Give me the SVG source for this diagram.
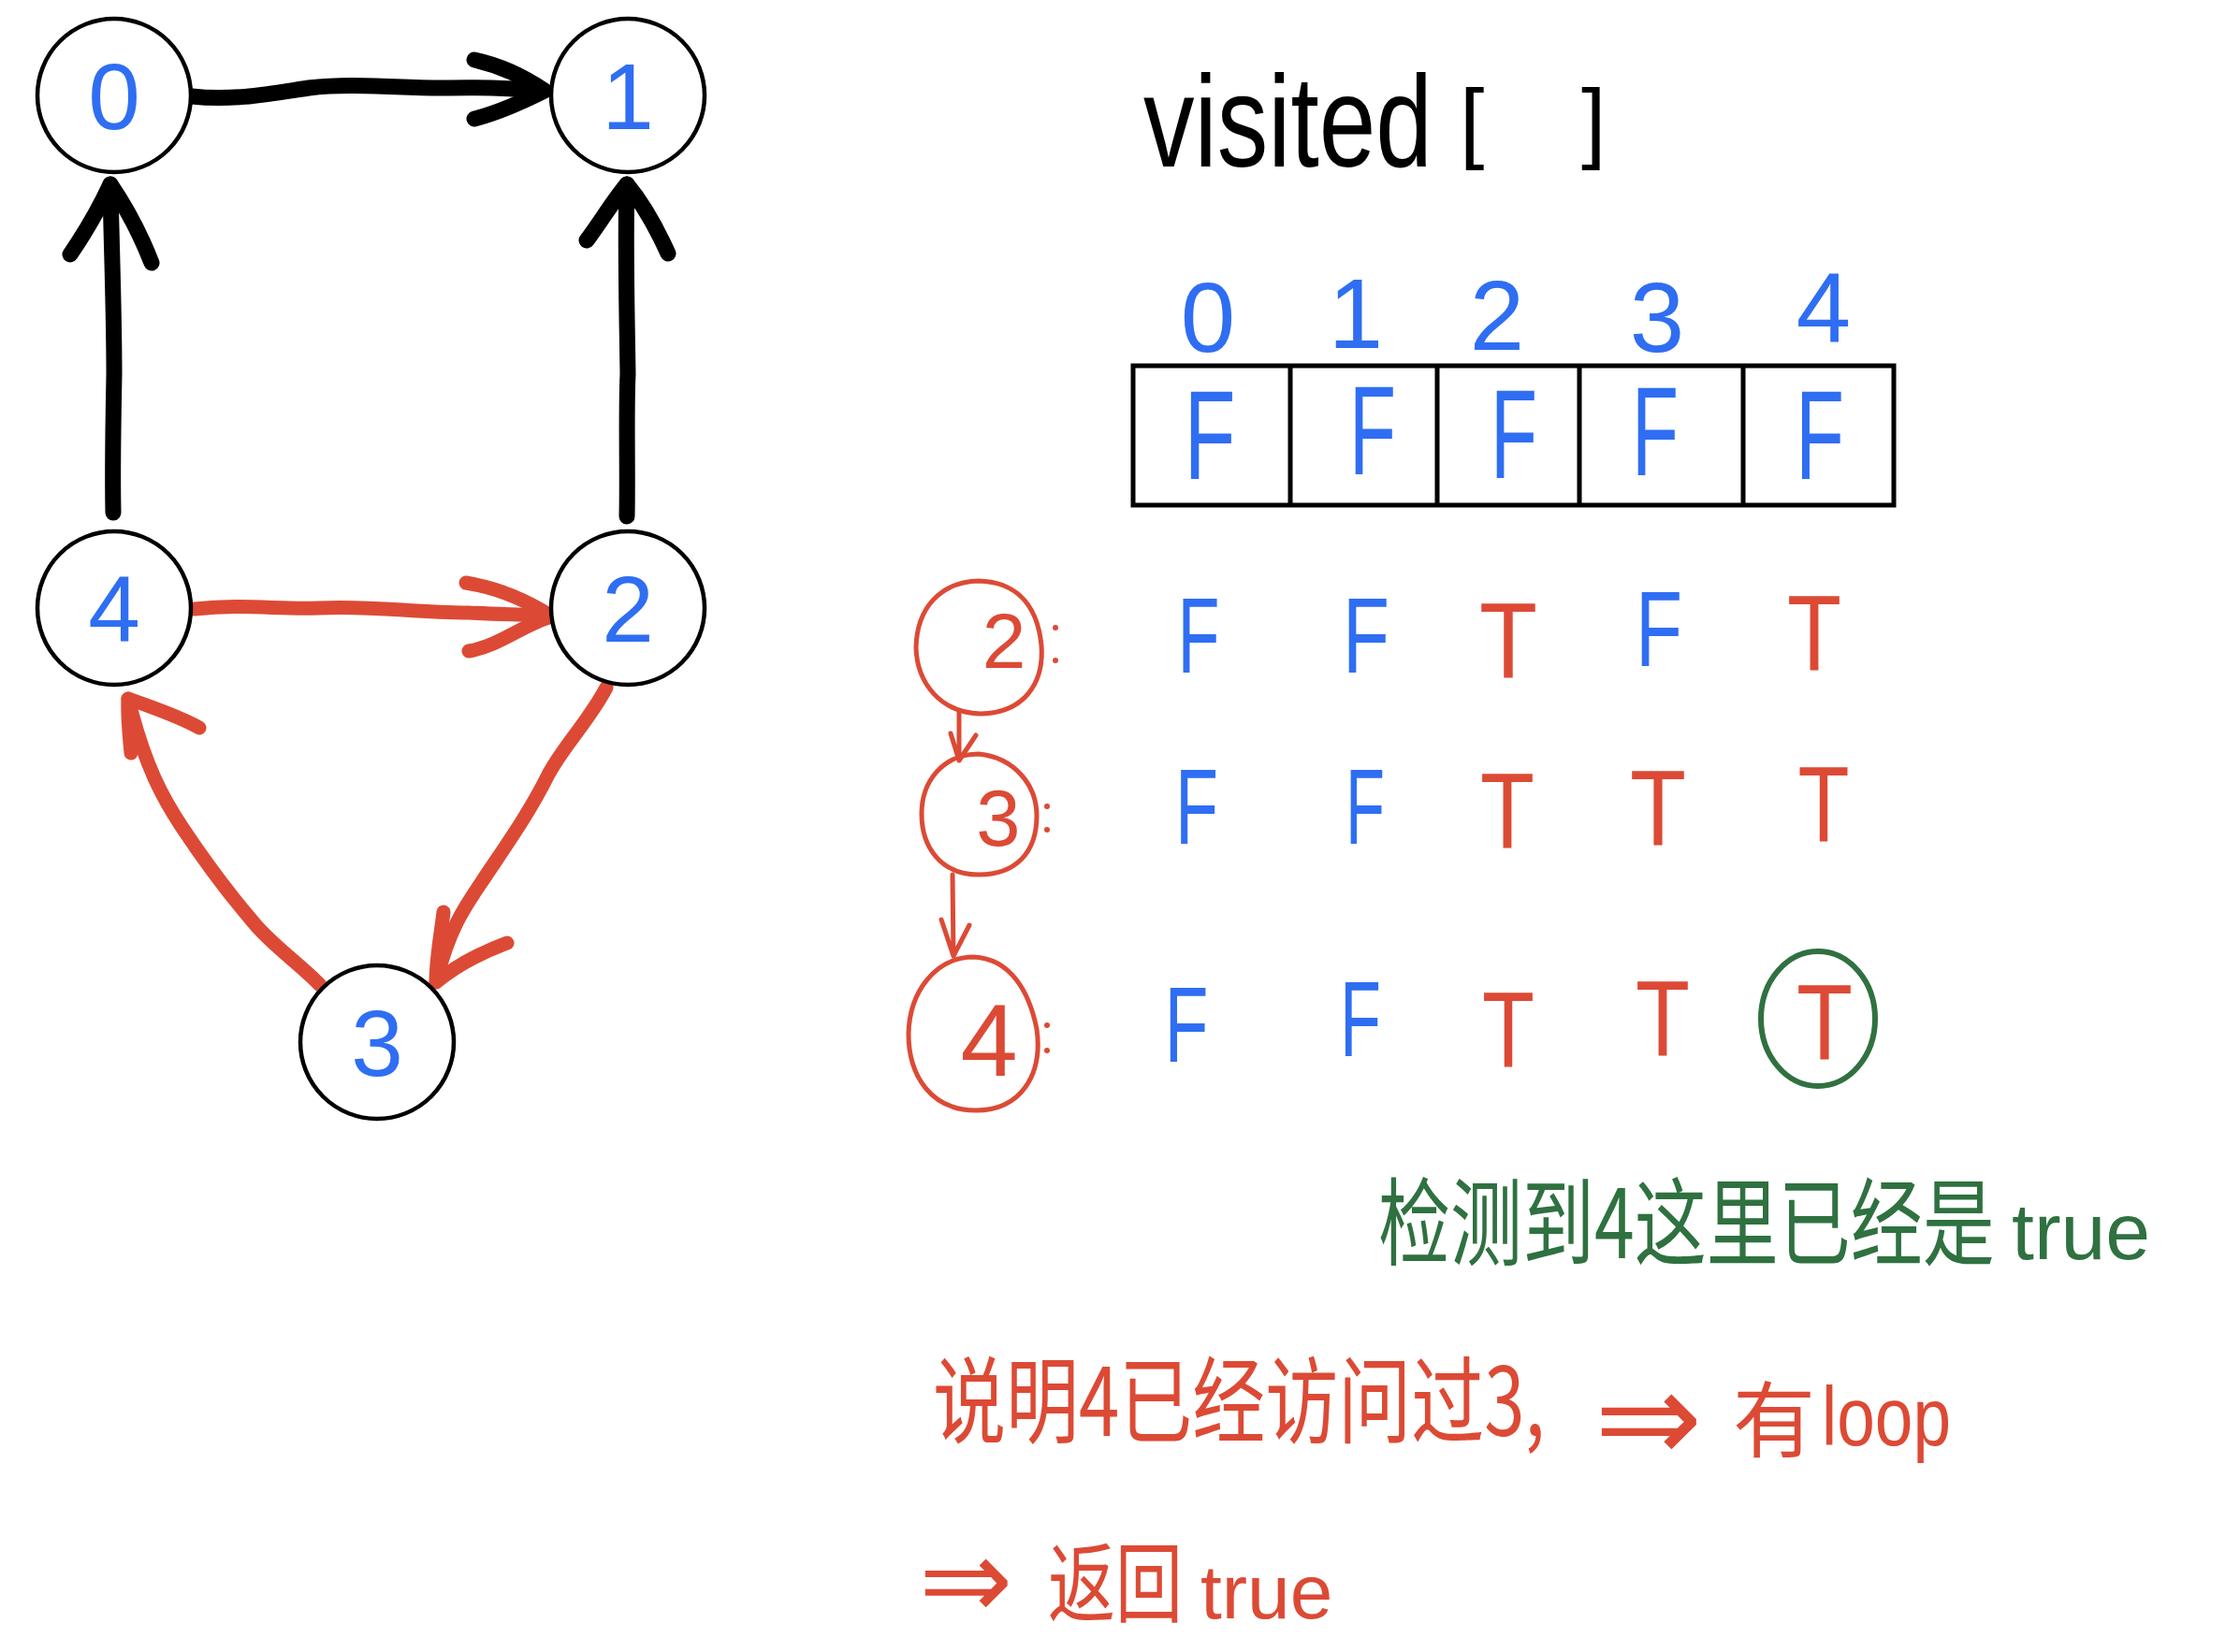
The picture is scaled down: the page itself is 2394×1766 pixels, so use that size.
<svg xmlns="http://www.w3.org/2000/svg" width="2394" height="1766" viewBox="0 0 2394 1766">
<style>
.bg{fill:#ffffff}
.node{fill:#ffffff;stroke:#000000;stroke-width:4.5}
.nlabel{font-family:"Liberation Sans","Noto Sans",sans-serif;font-size:100px;fill:#2f6ef2;text-anchor:middle}
.blk{fill:none;stroke:#000000;stroke-width:17;stroke-linecap:round;stroke-linejoin:round}
.red{fill:none;stroke:#dc4a35;stroke-width:15;stroke-linecap:round;stroke-linejoin:round}
.redthin{fill:none;stroke:#dc4a35;stroke-width:5;stroke-linecap:round;stroke-linejoin:round}
.grn{fill:none;stroke:#2f7140;stroke-width:6;stroke-linecap:round}
.tbl{fill:none;stroke:#000000;stroke-width:5}
.hand{font-family:"Liberation Sans","Noto Sans",sans-serif}
.arrowtxt{font-family:"DejaVu Sans",sans-serif}
.b{fill:#2f6ef2}
.r{fill:#dc4a35}
.g{fill:#2f7140}
.k{fill:#000000}
.cjk{font-family:"Noto Sans CJK SC","Liberation Sans",sans-serif}
.cell{font-family:"Liberation Sans",sans-serif;font-size:135px;text-anchor:middle}
.row{font-family:"Liberation Sans",sans-serif;font-size:115px;text-anchor:middle}
</style>
<rect class="bg" x="0" y="0" width="2394" height="1766"/>

<g id="connectors">
  <g id="e0-1">
    <path class="blk" d="M205,103 C250,108 290,100 330,94 C380,88 430,95 480,94 C520,93 555,95 580,97"/>
    <path class="blk" d="M507,64 C535,70 560,82 582,97 C560,108 535,120 507,127"/>
  </g>
  <g id="e4-0">
    <path class="blk" d="M121,548 C120,500 121,450 122,400 C122,330 119,260 118,197"/>
    <path class="blk" d="M75,272 C90,250 105,225 118,197 C135,222 150,250 162,281"/>
  </g>
  <g id="e2-1">
    <path class="blk" d="M670,552 C671,500 669,440 671,400 C670,330 668,260 670,197"/>
    <path class="blk" d="M627,257 C640,240 655,215 670,197 C685,215 700,240 714,271"/>
  </g>
  <g id="e4-2">
    <path class="red" d="M208,651 C260,645 300,652 340,650 C400,647 440,655 500,655 C540,657 570,657 590,659"/>
    <path class="red" d="M498,623 C530,628 560,640 590,659 C560,667 535,690 501,696"/>
  </g>
  <g id="e2-3">
    <path class="red" d="M648,735 C630,770 600,800 585,830 C565,870 540,905 520,935 C500,965 480,990 466,1050"/>
    <path class="red" d="M474,975 C471,1000 466,1025 466,1050 C490,1030 515,1018 542,1008"/>
  </g>
  <g id="e3-4">
    <path class="red" d="M342,1053 C320,1030 290,1010 270,985 C240,950 215,915 195,885 C175,855 155,820 137,747"/>
    <path class="red" d="M140,805 C138,785 136,765 137,747 C160,755 190,765 213,778"/>
  </g>
  <g id="trace-arrows">
    <path class="redthin" d="M1025,760 L1025,813 M1016,784 L1025,813 L1043,786"/>
    <path class="redthin" d="M1018,935 L1019,1022 M1006,983 L1019,1022 L1036,989"/>
  </g>
</g>

<g id="node-0">
  <circle class="node" cx="122" cy="102" r="82"/>
  <text class="nlabel" x="122" y="138">0</text>
</g>
<g id="node-1">
  <circle class="node" cx="671" cy="102" r="82"/>
  <text class="nlabel" x="671" y="138">1</text>
</g>
<g id="node-4">
  <circle class="node" cx="122" cy="650" r="82"/>
  <text class="nlabel" x="122" y="686">4</text>
</g>
<g id="node-2">
  <circle class="node" cx="671" cy="650" r="82"/>
  <text class="nlabel" x="671" y="686">2</text>
</g>
<g id="node-3">
  <circle class="node" cx="403" cy="1114" r="82"/>
  <text class="nlabel" x="403" y="1150">3</text>
</g>

<g id="visited-title">
  <text class="hand k" x="1222" y="178" font-size="109" transform="matrix(1 0 0 1.28 0 -49.84)">visited</text>
  <text class="hand k" x="1560" y="162" font-size="95">[</text>
  <text class="hand k" x="1690" y="162" font-size="95">]</text>
</g>

<g id="visited-table">
  <rect class="tbl" x="1211" y="391" width="813" height="149"/>
  <line class="tbl" x1="1379" y1="391" x2="1379" y2="540"/>
  <line class="tbl" x1="1536" y1="391" x2="1536" y2="540"/>
  <line class="tbl" x1="1688" y1="391" x2="1688" y2="540"/>
  <line class="tbl" x1="1863" y1="391" x2="1863" y2="540"/>
  <g font-size="105" class="hand b" text-anchor="middle">
    <text x="1291" y="376">0</text>
    <text x="1449" y="372">1</text>
    <text x="1600" y="374">2</text>
    <text x="1771" y="376">3</text>
    <text x="1949" y="366">4</text>
  </g>
  <g class="cell b">
    <text x="1293" y="512" textLength="55" lengthAdjust="spacingAndGlyphs">F</text>
    <text x="1467" y="507" textLength="50" lengthAdjust="spacingAndGlyphs">F</text>
    <text x="1618" y="511" textLength="50" lengthAdjust="spacingAndGlyphs">F</text>
    <text x="1769" y="508" textLength="50" lengthAdjust="spacingAndGlyphs">F</text>
    <text x="1945" y="512" textLength="52" lengthAdjust="spacingAndGlyphs">F</text>
  </g>
</g>

<g id="step-2">
  <path class="redthin" d="M1046,621 C1080,622 1108,640 1113,690 C1116,730 1095,762 1048,763 C1005,762 980,730 979,692 C980,650 1005,622 1046,621 Z"/>
  <text class="hand r" x="1073" y="714" font-size="84" text-anchor="middle">2</text>
  <circle class="r" cx="1128" cy="671" r="3"/>
  <circle class="r" cx="1128" cy="706" r="3"/>
  <g class="row">
    <text class="b" x="1281" y="719" textLength="45" lengthAdjust="spacingAndGlyphs">F</text>
    <text class="b" x="1460" y="719" textLength="50" lengthAdjust="spacingAndGlyphs">F</text>
    <text class="r" x="1612" y="725" textLength="62" lengthAdjust="spacingAndGlyphs">T</text>
    <text class="b" x="1773" y="712" textLength="50" lengthAdjust="spacingAndGlyphs">F</text>
    <text class="r" x="1939" y="717" textLength="58" lengthAdjust="spacingAndGlyphs">T</text>
  </g>
</g>

<g id="step-3">
  <path class="redthin" d="M1046,806 C1085,810 1108,840 1108,872 C1108,912 1085,935 1046,935 C1005,935 985,905 985,870 C985,835 1008,806 1046,806 Z"/>
  <text class="hand r" x="1067" y="904" font-size="85" text-anchor="middle">3</text>
  <circle class="r" cx="1119" cy="862" r="3"/>
  <circle class="r" cx="1119" cy="887" r="3"/>
  <g class="row">
    <text class="b" x="1279" y="902" textLength="46" lengthAdjust="spacingAndGlyphs">F</text>
    <text class="b" x="1459" y="902" textLength="42" lengthAdjust="spacingAndGlyphs">F</text>
    <text class="r" x="1611" y="907" textLength="58" lengthAdjust="spacingAndGlyphs">T</text>
    <text class="r" x="1772" y="904" textLength="60" lengthAdjust="spacingAndGlyphs">T</text>
    <text class="r" x="1949" y="900" textLength="55" lengthAdjust="spacingAndGlyphs">T</text>
  </g>
</g>

<g id="step-4">
  <path class="redthin" d="M1041,1023 C1080,1025 1100,1060 1108,1100 C1115,1150 1090,1187 1043,1187 C995,1187 971,1150 971,1105 C972,1060 1000,1023 1041,1023 Z"/>
  <text class="hand r" x="1057" y="1150" font-size="110" text-anchor="middle">4</text>
  <circle class="r" cx="1119" cy="1096" r="3"/>
  <circle class="r" cx="1119" cy="1123" r="3"/>
  <g class="row">
    <text class="b" x="1268" y="1135" textLength="47" lengthAdjust="spacingAndGlyphs">F</text>
    <text class="b" x="1454" y="1129" textLength="44" lengthAdjust="spacingAndGlyphs">F</text>
    <text class="r" x="1612" y="1141" textLength="56" lengthAdjust="spacingAndGlyphs">T</text>
    <text class="r" x="1777" y="1129" textLength="58" lengthAdjust="spacingAndGlyphs">T</text>
    <text class="r" x="1950" y="1133" textLength="60" lengthAdjust="spacingAndGlyphs">T</text>
  </g>
  <ellipse class="grn" cx="1943" cy="1089" rx="61" ry="72"/>
</g>

<g id="note-green">
  <text class="cjk g" x="1473" y="1345" font-size="77" transform="matrix(1 0 0 1.33 0 -443.85)">检测到4这里已经是</text>
  <text class="hand g" x="2150" y="1346" font-size="86">true</text>
</g>

<g id="note-red-1">
  <text class="cjk r" x="997" y="1535" font-size="78" transform="matrix(1 0 0 1.3 0 -460.5)">说明4已经访问过3,</text>
  <text class="arrowtxt r" x="1704" y="1563" font-size="138">⇒</text>
  <text class="cjk r" x="1852" y="1550" font-size="88">有</text>
  <text class="hand r" x="1947" y="1545" font-size="73" transform="matrix(1 0 0 1.23 0 -355.35)">loop</text>
</g>

<g id="note-red-2">
  <text class="arrowtxt r" x="982" y="1730" font-size="120">⇒</text>
  <text class="cjk r" x="1120" y="1727" font-size="72" transform="matrix(1 0 0 1.3 0 -518.1)">返回</text>
  <text class="hand r" x="1283" y="1730" font-size="82">true</text>
</g>
</svg>
